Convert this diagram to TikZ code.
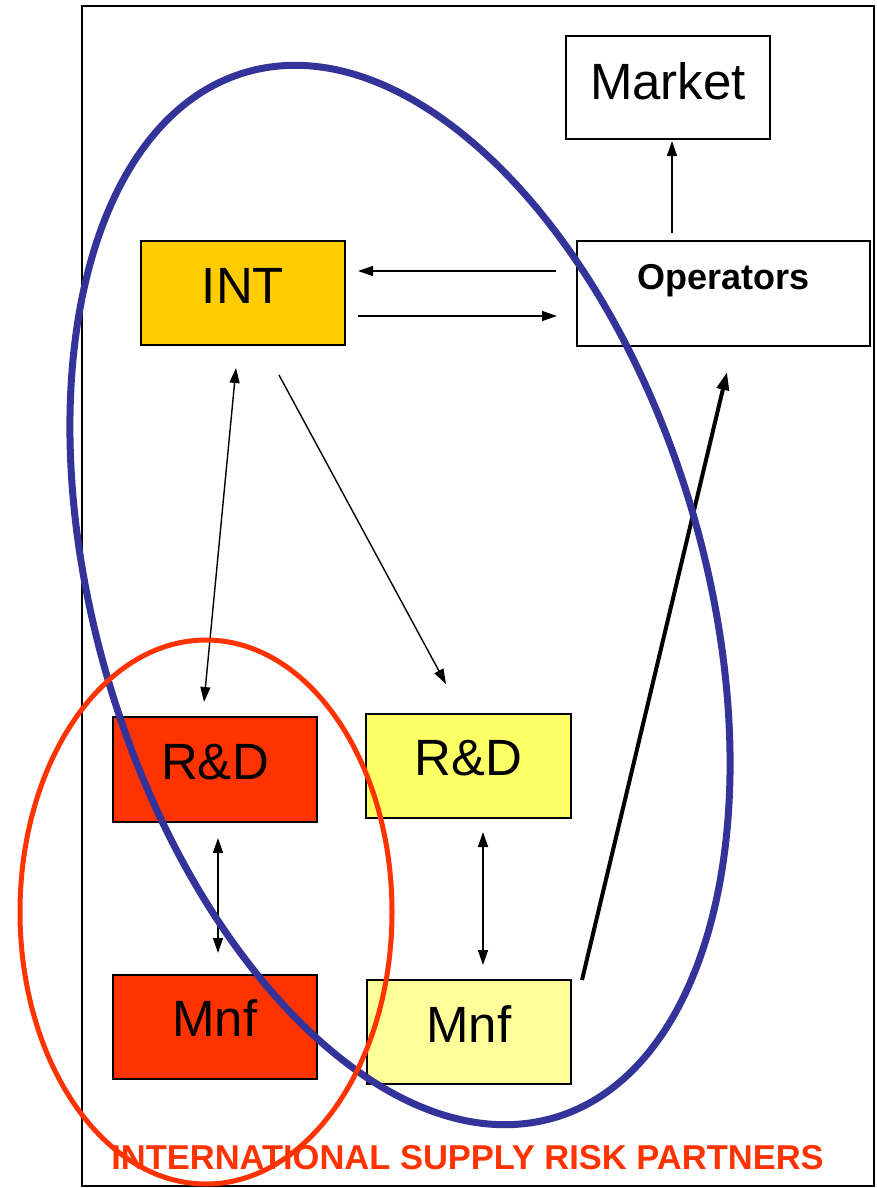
\documentclass[tikz,border=0pt]{standalone}
\usepackage{fontspec}
\setmainfont{Liberation Sans}
\usetikzlibrary{arrows.meta}
\definecolor{intc}{HTML}{FFCC00}
\definecolor{redc}{HTML}{FF3300}
\definecolor{yelA}{HTML}{FFFF66}
\definecolor{yelB}{HTML}{FFFF99}
\definecolor{bluec}{HTML}{333399}
\begin{document}
\begin{tikzpicture}[x=1pt,y=-1pt,
  box/.style={draw=black,line width=2pt,minimum width=204pt,minimum height=104pt,inner sep=0pt,
    font=\fontsize{51}{60}\selectfont,text height=37pt,text depth=17pt},
  conn/.style={line width=1.4pt,-{Triangle[length=15pt,width=10pt]}},
  dconn/.style={line width=1.4pt,{Triangle[length=15pt,width=10pt]}-{Triangle[length=15pt,width=10pt]}},
  thickconn/.style={line width=4pt,-{Triangle[length=18pt,width=12pt]}}]
\useasboundingbox (0,0) rectangle (876,1188);
\fill[white] (0,0) rectangle (876,1188);
\draw[line width=1.6pt] (82,6) rectangle (874,1186);

\node[box,text depth=13pt,minimum height=103pt] (market) at (668,87.5) {Market};
\node[box,minimum width=293pt,minimum height=105pt,font=\bfseries\fontsize{36}{42}\selectfont,text height=26pt,text depth=35pt] (oper) at (723.5,293.5) {Operators};
\node[box,fill=intc,text depth=16pt] (int) at (243,293) {INT};
\node[box,fill=redc,minimum height=105pt] (rdA) at (215,769.5) {R\&D};
\node[box,fill=redc,text depth=18pt] (mnfA) at (215,1027) {Mnf};
\node[box,fill=yelA,minimum width=205pt,text depth=18pt] (rdB) at (468.5,766) {R\&D};
\node[box,fill=yelB,text depth=16pt] (mnfB) at (469,1032) {Mnf};

\coordinate (om1) at (672,233); \coordinate (om2) at (672,141);
\coordinate (oi1) at (556,271); \coordinate (oi2) at (358,271);
\coordinate (io1) at (358,316); \coordinate (io2) at (557,316);
\coordinate (ir1) at (236,368); \coordinate (ir2) at (204,702);
\coordinate (iy1) at (279,375); \coordinate (iy2) at (446,684);
\coordinate (rm1) at (218,838); \coordinate (rm2) at (218,953);
\coordinate (ym1) at (483,832); \coordinate (ym2) at (483,965);
\coordinate (mo1) at (582,980); \coordinate (mo2) at (727,372);

\draw[conn] (om1) -- (om2);
\draw[conn] (oi1) -- (oi2);
\draw[conn] (io1) -- (io2);
\draw[dconn] (ir1) -- (ir2);
\draw[conn] (iy1) -- (iy2);
\draw[dconn] (rm1) -- (rm2);
\draw[dconn] (ym1) -- (ym2);
\draw[thickconn] (mo1) -- (mo2);

\draw[bluec,line width=7pt,rotate around={16.5:(400,595)}] (400,595) ellipse [x radius=304pt,y radius=545pt];
\draw[redc,line width=5pt] (206,912) ellipse [x radius=186pt,y radius=272pt];

\node[anchor=base,inner sep=0pt,text=redc,font=\bfseries\fontsize{34.5}{40}\selectfont] (title) at (467.5,1169) {INTERNATIONAL SUPPLY RISK PARTNERS};
\end{tikzpicture}
\end{document}
